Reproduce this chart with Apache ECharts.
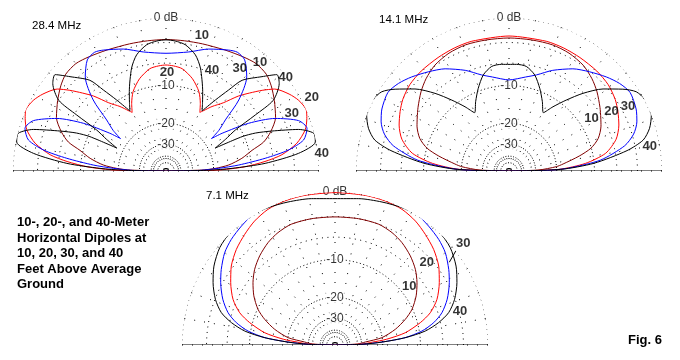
<!DOCTYPE html>
<html><head><meta charset="utf-8">
<script src="https://cdn.jsdelivr.net/npm/echarts@6/dist/echarts.min.js"></script>
<style>html,body{margin:0;padding:0;background:#fff}#c{width:680px;height:360px}</style>
</head><body><div id="c"></div>
<script>
// ---- data: [elevation angle (deg), relative gain (dB)] for 0..90 deg (patterns are symmetric) ----
const freqLabels = ['28.4 MHz', '14.1 MHz', '7.1 MHz'];
const heightNames = ['10', '20', '30', '40'];
const heightColors = ['#800000', '#ff0000', '#0000ff', '#000000'];

const p28_10 = [[0,-99],[1.5,-25],[3,-19.5],[5.5,-15.2],[9.5,-11.8],[13.5,-9.4],[16.5,-7.0],[20.5,-5.4],[26,-3.9],[33,-2.9],[39,-2.1],[44,-1.6],[50,-1.5],[56,-1.8],[64,-2.2],[74,-2.5],[82,-2.6],[90,-2.6]];
const p28_20 = [[0,-99],[1,-19],[3,-11.5],[5.5,-7.4],[8,-4.6],[12,-2.3],[16.5,-0.9],[20.5,-0.3],[23.5,0],[28,-0.3],[32,-0.9],[37,-2.0],[40,-3.4],[43,-5.0],[46,-6.6],[50,-9.3],[54.5,-11.3],[58,-13.1],[60,-14],[63,-12.1],[67.5,-9.9],[74,-8.0],[81,-6.7],[86,-6.4],[90,-6.3]];
const p28_30 = [[0,-99],[1,-26],[2.9,-18.3],[4.7,-12.7],[7.3,-7.3],[9.7,-3.6],[12.7,-1.4],[16.8,-0.65],[20.8,-1.3],[25.7,-4.0],[30,-8.1],[33.9,-14],[35.5,-17.3],[37.5,-14.3],[40.7,-11.5],[44.3,-7.0],[49.4,-3.6],[54.7,-2.0],[59,-1.7],[62.6,-2.0],[70.7,-2.9],[79.2,-4.0],[90,-4.5]];
const p28_40 = [[0,-99],[1,-22],[2.3,-14.4],[4.4,-7.4],[7.6,-2.3],[11,-0.1],[14.3,-0.05],[17.4,-1.65],[20.7,-5.2],[23,-7.8],[24.3,-10.4],[25,-17.8],[28,-14.1],[30.6,-11],[32.1,-6.4],[33.4,-3.0],[37.7,-1.15],[41,-0.7],[44.5,-2.2],[50,-4.4],[52.3,-6.9],[55.2,-9.8],[59,-13.4],[62,-11.6],[65.2,-9.6],[71.5,-5.9],[75.8,-4.2],[81.3,-3.1],[86,-2.75],[90,-2.65]];

const p14_10 = [[0,-99],[2,-28],[5.2,-20.1],[7.4,-17.7],[12,-13],[15.5,-10.1],[20,-8.2],[26,-6.9],[30,-6.3],[35,-5.5],[42,-4.4],[48,-3.6],[55,-2.9],[63,-2.5],[71,-2.35],[80,-2.4],[90,-2.4]];
const p14_20 = [[0,-99],[1.9,-19.2],[5.7,-11.8],[10.4,-7.6],[16.5,-5.4],[22.7,-4.3],[28.6,-3.6],[34,-3.05],[41,-2.6],[48.7,-2.4],[58,-2.3],[66,-2.2],[74,-2.15],[90,-2.15]];
const p14_30 = [[0,-99],[1,-24],[2.6,-16.5],[6.8,-8.7],[12.3,-4.4],[16.5,-2.8],[21,-1.9],[26,-1.35],[33,-1.0],[38.4,-1.4],[44,-2.1],[51,-3.1],[58,-4.1],[66.5,-5.7],[74,-7.3],[80,-8.1],[90,-8.9]];
const p14_40 = [[0,-99],[1.8,-18.6],[5.2,-10],[9.8,-4.2],[13,-1.8],[16.9,-0.7],[21.5,0],[27.3,0.1],[31.9,-0.35],[35.7,-1.5],[41.1,-3.5],[46.4,-6.1],[51.1,-8.9],[55.6,-11.6],[59.5,-14],[64.3,-11.8],[69.6,-9.45],[75,-7.4],[80.6,-6.3],[86,-6.15],[90,-6.2]];

const p7_10 = [[0,-99],[2.5,-33],[5.6,-27.7],[8.9,-20.1],[14.6,-15.4],[20,-12.3],[24.9,-10.1],[31.2,-8.2],[37.2,-6.8],[43.3,-5.6],[49.8,-4.65],[56.8,-3.84],[63.1,-3.33],[70.1,-3.0],[79.4,-3.0],[90,-3.05]];
const p7_20 = [[0,-99],[2,-30],[4.4,-24],[6.4,-18.5],[9.9,-13.1],[14.7,-9.45],[18.7,-7.2],[24.1,-5.4],[30.9,-3.95],[37.3,-2.75],[44.1,-1.85],[50.8,-1.18],[57,-0.6],[63.7,-0.19],[70.7,-0.05],[78.5,-0.04],[90,-0.07]];
const p7_30 = [[0,-99],[1.5,-30],[3.6,-20.2],[6,-13.3],[9.1,-9.5],[12.75,-7.1],[16.8,-5.4],[22.2,-4.0],[28.6,-2.77],[33.6,-1.95],[39.9,-1.06],[45.5,-0.57],[51.8,-0.19],[58.7,0.19],[65.9,0.33],[75,0.33],[86,0.33],[90,0.33]];
const p7_40 = [[0,-99],[1.5,-30],[3.6,-20],[6,-13.1],[8.8,-8.85],[12.2,-6.3],[15.9,-4.43],[20.9,-3.06],[27.1,-1.9],[33.1,-0.98],[40.2,-0.24],[47.7,0.11],[56.5,0.19],[64,-0.02],[71.8,-0.28],[80.8,-0.54],[90,-0.76]];

// curve labels: [text, angle deg, dB]
const labels28 = [['10',75.2,-1.47],['40',65.5,-5.5],['20',89.4,-7.5],['30',54.3,-3.26],['10',49.2,-1.07],['40',38.1,-0.1],['20',26.9,1.13],['30',24.7,-1.72],['40',6.6,0.41]];
const labels14 = [['10',32.5,-7.66],['20',30,-4.4],['30',28.3,-2.12],['40',9.8,-1.18]];
const labels7 = [['30',38.4,1.16],['20',42,-3.67],['10',38.1,-8.28],['40',14.9,-2.87]];
const leader7 = [[35.9,-1.39],[38.6,0.52]];

// grid rings (dB) with their dot pattern, and ring labels
const ringsDb = [0, -3, -6, -10, -20, -30, -40, -50];
const ringDash = [[1,4], [1,4.5], [1,4.5], [1,2.6], [1,2], [1,1.6], [1,1.6], [1,1.6]];
const ringLabelDb = [0, -10, -20, -30];
const ringLabelText = ['0 dB', '-10', '-20', '-30'];

const descText = '10-, 20-, and 40-Meter\nHorizontal Dipoles at\n10, 20, 30, and 40\nFeet Above Average\nGround';
const figText = 'Fig. 6';

// ---- build ----
const FONT = '"Liberation Sans", Arial, sans-serif';
const rOf = db => Math.pow(0.89, -db / 2); // ARRL log scale
function mirror(arr) {
  const out = arr.map(p => [rOf(p[1]), p[0]]);
  for (let i = arr.length - 2; i >= 0; i--) out.push([rOf(arr[i][1]), 180 - arr[i][0]]);
  return out;
}
const plots = [
  {curves: [p28_10, p28_20, p28_30, p28_40], labels: labels28},
  {curves: [p14_10, p14_20, p14_30, p14_40], labels: labels14},
  {curves: [p7_10, p7_20, p7_30, p7_40], labels: labels7}
];
const centers = [[166, 171], [509, 171], [335, 345]];
const R = 153;

function ringData(db) {
  const d = [];
  for (let a = 0; a <= 180; a += 1) d.push([rOf(db), a]);
  return d;
}

const series = [];
plots.forEach((pl, i) => {
  ringsDb.forEach((db, k) => series.push({type:'line', coordinateSystem:'polar', polarIndex:i, data:ringData(db), showSymbol:false, silent:true, z:1, clip:false,
    lineStyle:{color:'#000', width:1, type:ringDash[k]}}));
  // baseline
  series.push({type:'line', coordinateSystem:'polar', polarIndex:i, data:[[1,0],[1,180]], showSymbol:false, silent:true, zlevel:1, z:3, clip:false,
    lineStyle:{color:'#000', width:1.2}});
  // ring labels
  series.push({type:'scatter', coordinateSystem:'polar', polarIndex:i, symbolSize:1, itemStyle:{color:'rgba(0,0,0,0)'}, z:2, clip:false,
    data: ringLabelDb.map((db, k) => [rOf(db), 90, ringLabelText[k]]),
    label:{show:true, position:'inside', formatter:p => p.value[2], color:'#000', fontSize:12, fontFamily:FONT, backgroundColor:'#fff', padding:[0,1]}});
  // curves
  pl.curves.forEach((c, k) => series.push({type:'line', name:heightNames[k] + ' ft', coordinateSystem:'polar', polarIndex:i, data:mirror(c),
    showSymbol:false, smooth:0.25, zlevel:1, z:3, clip:false, lineStyle:{color:heightColors[k], width:1}}));
  // curve labels
  series.push({type:'scatter', coordinateSystem:'polar', polarIndex:i, symbolSize:1, itemStyle:{color:'rgba(0,0,0,0)'}, zlevel:1, z:4, clip:false,
    data: pl.labels.map(l => [rOf(l[2]), l[1], l[0]]),
    label:{show:true, position:'inside', formatter:p => p.value[2], color:'#000', fontSize:13, fontWeight:'bold', fontFamily:FONT}});
});
series.push({type:'line', coordinateSystem:'polar', polarIndex:2, data:leader7.map(p => [rOf(p[1]), p[0]]), showSymbol:false, zlevel:1, z:4, clip:false,
  lineStyle:{color:'#000', width:1}});

const option = {
  animation:false,
  backgroundColor:'#fff',
  title:[
    {text:freqLabels[0], left:32, top:20, padding:0, textStyle:{fontSize:11.5, fontWeight:'normal', color:'#000', fontFamily:FONT}},
    {text:freqLabels[1], left:379, top:14, padding:0, textStyle:{fontSize:11.5, fontWeight:'normal', color:'#000', fontFamily:FONT}},
    {text:freqLabels[2], left:206, top:190, padding:0, textStyle:{fontSize:11.5, fontWeight:'normal', color:'#000', fontFamily:FONT}},
    {text:descText, left:17, top:215, padding:0, textStyle:{fontSize:13, fontWeight:'bold', color:'#000', lineHeight:15.5, fontFamily:FONT}},
    {text:figText, left:628, top:334, padding:0, textStyle:{fontSize:13, fontWeight:'bold', color:'#000', fontFamily:FONT}}
  ],
  polar: centers.map(c => ({center:c, radius:R})),
  angleAxis: centers.map((c, i) => ({polarIndex:i, type:'value', min:0, max:180, startAngle:0, endAngle:180, clockwise:false, interval:10,
    axisLine:{show:false}, axisTick:{show:false}, axisLabel:{show:false},
    splitLine:{show:true, lineStyle:{color:'#000', width:1, type:[1,9]}}})),
  radiusAxis: centers.map((c, i) => ({polarIndex:i, type:'value', min:0, max:1,
    axisLine:{show:false}, axisTick:{show:false}, axisLabel:{show:false}, splitLine:{show:false}})),
  series: series
};
const chart = echarts.init(document.getElementById('c'), null, {renderer:'canvas'});
chart.setOption(option);
</script></body></html>
